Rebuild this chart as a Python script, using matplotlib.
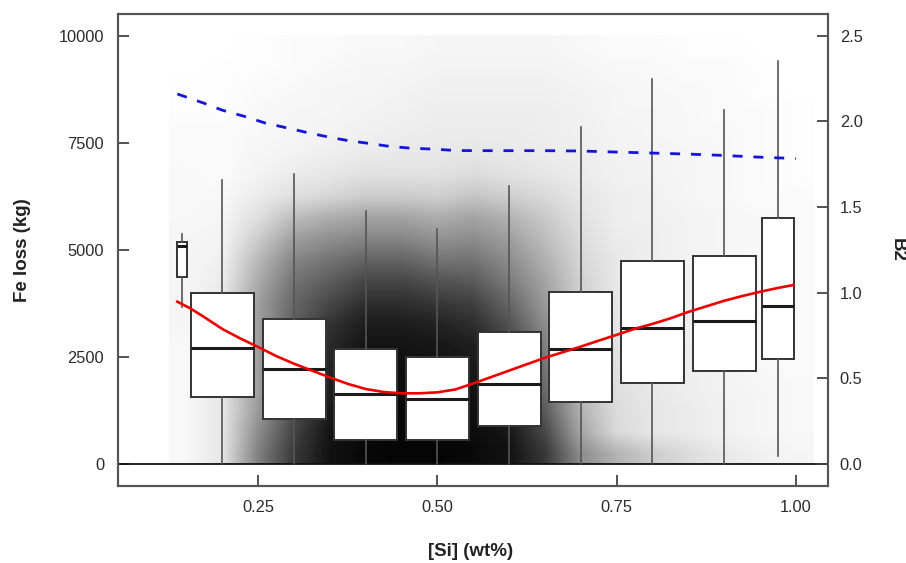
import numpy as np
import matplotlib
matplotlib.use('Agg')
import matplotlib.pyplot as plt
from matplotlib.colors import LinearSegmentedColormap

plt.rcParams['font.family'] = ['Liberation Sans', 'DejaVu Sans']

# boxplots of Fe loss (kg) per [Si] class
box_pos = [0.143, 0.2, 0.3, 0.4, 0.5, 0.6, 0.7, 0.8, 0.9, 0.975]
box_width = [0.014, 0.088, 0.088, 0.088, 0.088, 0.088, 0.088, 0.088, 0.088, 0.044]
whis_lo = [3670, 0, 0, 0, 0, 0, 0, 0, 0, 175]
q1 = [4370, 1560, 1055, 565, 565, 875, 1440, 1890, 2175, 2455]
median = [5100, 2710, 2225, 1640, 1520, 1860, 2680, 3170, 3350, 3690]
q3 = [5190, 4000, 3385, 2685, 2495, 3075, 4025, 4730, 4860, 5745]
whis_hi = [5370, 6640, 6760, 5910, 5490, 6490, 7865, 8990, 8265, 9420]

# smoothed trend of Fe loss (red)
fe_si = [0.137, 0.155, 0.175, 0.2, 0.225, 0.25, 0.275, 0.3, 0.325, 0.35,
         0.375, 0.4, 0.425, 0.45, 0.475, 0.5, 0.525, 0.55, 0.575, 0.6,
         0.625, 0.65, 0.675, 0.7, 0.725, 0.75, 0.775, 0.8, 0.825, 0.85,
         0.875, 0.9, 0.925, 0.95, 0.975, 0.997]
fe_trend = [3790, 3635, 3425, 3150, 2930, 2730, 2520, 2340, 2180, 2020,
            1870, 1750, 1680, 1650, 1650, 1673, 1740, 1880, 2030, 2180,
            2330, 2480, 2610, 2740, 2880, 3015, 3155, 3270, 3400, 3550,
            3680, 3810, 3920, 4020, 4110, 4180]

# B2 trend (blue, right axis)
b2_si = [0.137, 0.175, 0.2, 0.23, 0.26, 0.29, 0.32, 0.35, 0.375, 0.405,
         0.435, 0.465, 0.495, 0.525, 0.555, 0.6, 0.65, 0.7, 0.75, 0.8,
         0.85, 0.9, 0.95, 1.0]
b2_trend = [2.16, 2.105, 2.065, 2.03, 1.99, 1.962, 1.933, 1.907, 1.888, 1.871,
            1.853, 1.843, 1.838, 1.83, 1.829, 1.829, 1.829, 1.827, 1.821, 1.815,
            1.809, 1.801, 1.791, 1.783]

# darkness (%) of the point cloud, one list per [Si] column (0.15 .. 1.00),
# bins of 500 kg from 0 to 10000
cloud_si = [0.15, 0.2, 0.25, 0.3, 0.35, 0.4, 0.45, 0.5, 0.55, 0.6,
            0.65, 0.7, 0.75, 0.8, 0.85, 0.9, 0.95, 1.0]
cloud_density = [
    [3, 3, 3, 3, 3, 3, 4, 4, 4, 4, 4, 3, 3, 3, 2, 2, 1, 1, 0, 0],
    [10, 10, 10, 10, 10, 10, 10, 10, 8, 6, 5, 4, 3, 2, 2, 2, 1, 1, 1, 0],
    [50, 45, 40, 38, 38, 38, 38, 38, 33, 28, 20, 13, 8, 5, 4, 3, 3, 2, 1, 1],
    [78, 74, 68, 65, 65, 63, 62, 60, 55, 48, 38, 26, 13, 8, 5, 4, 4, 3, 2, 2],
    [93, 92, 90, 88, 86, 84, 80, 72, 64, 55, 44, 32, 16, 10, 7, 5, 4, 4, 3, 2],
    [97, 96, 95, 95, 94, 92, 89, 82, 73, 61, 48, 36, 20, 12, 8, 6, 5, 4, 4, 3],
    [98, 97, 96, 95, 94, 92, 89, 82, 73, 61, 48, 36, 20, 12, 9, 7, 6, 5, 4, 3],
    [98, 97, 96, 95, 93, 91, 87, 78, 68, 55, 43, 32, 19, 12, 9, 8, 7, 6, 5, 4],
    [96, 95, 94, 92, 90, 88, 82, 75, 65, 55, 45, 36, 23, 14, 10, 8, 7, 6, 5, 4],
    [93, 91, 88, 84, 80, 75, 68, 60, 52, 45, 38, 30, 19, 12, 9, 8, 7, 6, 5, 4],
    [78, 72, 64, 58, 54, 50, 45, 40, 36, 31, 26, 21, 15, 10, 8, 7, 7, 6, 5, 4],
    [45, 35, 30, 28, 25, 22, 20, 18, 18, 16, 14, 12, 10, 8, 7, 6, 6, 5, 4, 3],
    [30, 15, 14, 13, 12, 11, 10, 10, 9, 9, 8, 7, 7, 6, 5, 5, 4, 4, 3, 2],
    [20, 10, 10, 9, 9, 8, 8, 8, 7, 7, 7, 6, 6, 5, 5, 4, 4, 3, 3, 2],
    [14, 8, 8, 7, 7, 7, 6, 6, 6, 5, 5, 5, 4, 4, 4, 3, 3, 3, 2, 1],
    [9, 6, 6, 5, 5, 5, 5, 4, 4, 4, 4, 4, 3, 3, 3, 3, 2, 2, 2, 1],
    [6, 4, 4, 4, 3, 3, 3, 3, 3, 3, 3, 3, 2, 2, 2, 2, 2, 1, 1, 0],
    [4, 3, 3, 3, 2, 2, 2, 2, 2, 2, 2, 2, 2, 1, 1, 1, 1, 0, 0, 0],
]

x_ticks = [0.25, 0.50, 0.75, 1.00]
y_ticks = [0, 2500, 5000, 7500, 10000]
b2_ticks = [0.0, 0.5, 1.0, 1.5, 2.0, 2.5]

fig = plt.figure(figsize=(9.06, 5.63), dpi=100)
ax = fig.add_axes([0.1302, 0.1368, 0.7837, 0.8383])

# point cloud as a density image
fog = LinearSegmentedColormap.from_list('fog', ['#ffffff', '#000000'])
cloud = np.array(cloud_density, dtype=float).T
dx = (cloud_si[1] - cloud_si[0]) / 2
ax.imshow(cloud, origin='lower', aspect='auto', cmap=fog, vmin=0, vmax=100,
          extent=[cloud_si[0] - dx, cloud_si[-1] + dx, 0, 10000],
          interpolation='bilinear', zorder=0)

stats = []
for i in range(len(box_pos)):
    stats.append(dict(med=median[i], q1=q1[i], q3=q3[i],
                      whislo=whis_lo[i], whishi=whis_hi[i], fliers=[]))
ax.bxp(stats, positions=box_pos, widths=box_width, patch_artist=True,
       showfliers=False, showcaps=False, manage_ticks=False, zorder=3,
       boxprops=dict(facecolor='white', edgecolor='#333333', linewidth=1.4),
       medianprops=dict(color='#1a1a1a', linewidth=2.2),
       whiskerprops=dict(color='#555555', linewidth=1.2))

ax.axhline(0, color='#111111', linewidth=1.3, zorder=2.5)
ax.plot(fe_si, fe_trend, color='#ee0000', linewidth=1.9, zorder=5)

ax.set_xlim(0.0542, 1.045)
ax.set_ylim(-514, 10507)
ax.set_xticks(x_ticks)
ax.set_xticklabels(['0.25', '0.50', '0.75', '1.00'])
ax.set_yticks(y_ticks)
ax.set_yticklabels([str(v) for v in y_ticks])
ax.tick_params(axis='x', direction='in', length=8, width=1.3, color='#444444',
               labelsize=11.8, labelcolor='#2b2b2b', pad=10)
ax.tick_params(axis='y', direction='in', length=8, width=1.3, color='#444444',
               labelsize=11.8, labelcolor='#2b2b2b', pad=10)

ax2 = ax.twinx()
ax2.plot(b2_si, b2_trend, color='#1414dc', linewidth=2,
         linestyle=(0, (3.6, 3.9)), zorder=5)
ax2.set_ylim(-514 / 4000, 10507 / 4000)
ax2.set_yticks(b2_ticks)
ax2.set_yticklabels(['%.1f' % v for v in b2_ticks])
ax2.tick_params(axis='y', direction='in', length=8, width=1.3, color='#444444',
                labelsize=11.8, labelcolor='#2b2b2b', pad=8.5)

for a in (ax, ax2):
    for s in a.spines.values():
        s.set_color('#555555')
        s.set_linewidth(1.5)

fig.text(23 / 906, 1 - 250 / 563, 'Fe loss (kg)', rotation=90, ha='center',
         va='center', fontsize=13.5, fontweight='bold', color='#222222')
fig.text(470.5 / 906, 1 - 552 / 563, '[Si] (wt%)', ha='center', va='center',
         fontsize=13.5, fontweight='bold', color='#222222')
fig.text(897 / 906, 1 - 250 / 563, 'B2', rotation=270, ha='center',
         va='center', fontsize=13.5, fontweight='bold', color='#222222')

fig.savefig('out.png', dpi=100)
